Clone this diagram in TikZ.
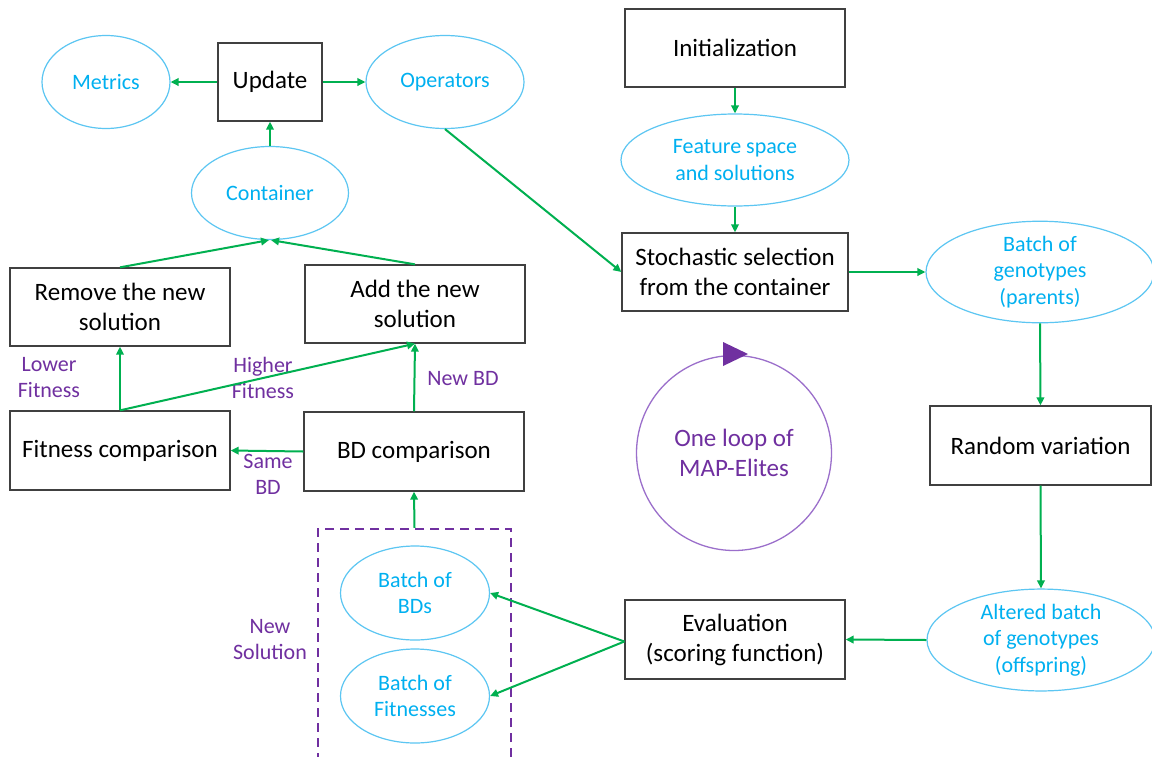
\documentclass[tikz,border=0pt]{standalone}
\usepackage{fontspec}
\setmainfont{Carlito}
\usetikzlibrary{arrows.meta,shapes.geometric}
\definecolor{cgreen}{HTML}{00B050}
\definecolor{cblue}{HTML}{00B0F0}
\definecolor{cblueline}{HTML}{5CC6F2}
\definecolor{cpurple}{HTML}{7030A0}
\definecolor{cpurpleline}{HTML}{9B6FCB}
\definecolor{cgray}{HTML}{404040}
\tikzset{
  box/.style={draw=cgray, line width=1.3pt, rectangle, inner sep=0pt, minimum width=220pt, minimum height=78pt, align=center, font=\fontsize{25}{30}\selectfont, text=black},
  oval/.style={draw=cblueline, line width=1.2pt, ellipse, inner sep=0pt, align=center, font=\fontsize{22}{26.5}\selectfont, text=cblue},
  lbl/.style={align=center, font=\fontsize{22}{26}\selectfont, text=cpurple, inner sep=0pt},
  conn/.style={draw=cgreen, line width=2pt, -{Triangle[length=8pt,width=7.5pt]}},
}
\begin{document}
\begin{tikzpicture}[x=1pt,y=-1pt]
\useasboundingbox (0,0) rectangle (1152,756);
\fill[white] (0,0) rectangle (1152,756);

% boxes
\node[box, minimum width=104pt] (upd) at (270,82) {Update};
\node[box] (init) at (735,48) {Initialization};
\node[box, minimum width=226pt] (stoch) at (735,272) {Stochastic selection\\from the container};
\node[box] (rem) at (120,307) {Remove the new\\solution};
\node[box] (add) at (415,304) {Add the new\\solution};
\node[box, minimum height=79pt] (fit) at (120,450.5) {Fitness comparison};
\node[box, minimum height=79pt] (bdc) at (414,451.5) {BD comparison};
\node[box, minimum width=221pt, minimum height=79pt] (rand) at (1040.5,445.5) {Random variation};
\node[box, minimum height=79pt] (eval) at (735,639.5) {Evaluation\\(scoring function)};

% ellipses
\node[oval, minimum width=128pt, minimum height=93pt] (met) at (106,82) {Metrics};
\node[oval, minimum width=158pt, minimum height=93pt] (ops) at (445,82) {Operators};
\node[oval, minimum width=157pt, minimum height=93pt] (cont) at (270,193) {Container};
\node[oval, minimum width=228pt, minimum height=92pt] (feat) at (735,160) {Feature space\\and solutions};
\node[oval, minimum width=228pt, minimum height=93pt] (par) at (1040,272) {Batch of\\genotypes\\(parents)};
\node[oval, minimum width=228pt, minimum height=93pt] (alt) at (1041,640) {Altered batch\\of genotypes\\(offspring)};
\node[oval, minimum width=149pt, minimum height=94pt] (bds) at (415,593) {Batch of\\BDs};
\node[oval, minimum width=149pt, minimum height=94pt] (fits) at (415,696) {Batch of\\Fitnesses};

% dashed group
\node[draw=cpurple, line width=2.2pt, dash pattern=on 9pt off 6pt, rectangle, inner sep=0pt, minimum width=193pt, minimum height=230pt] (grp) at (414.5,644) {};

% loop circle
\node[draw=cpurpleline, line width=1.3pt, circle, inner sep=0pt, minimum size=195pt, align=center, font=\fontsize{25}{30}\selectfont, text=cpurple] (loop) at (734,453) {One loop of\\MAP-Elites};
\fill[cpurple] (723,342) -- (748,354) -- (723,366) -- cycle;

% labels
\node[lbl] (lowlbl) at (49,378) {Lower\\Fitness};
\node[lbl] (higlbl) at (263,378) {Higher\\Fitness};
\node[lbl] (newbd) at (463,379) {New BD};
\node[lbl] (samebd) at (268,474) {Same\\BD};
\node[lbl] (newsol) at (270,640) {New\\Solution};

% connectors
\draw[conn] (upd.west) -- (met.east);
\draw[conn] (upd.east) -- (ops.west);
\draw[conn] (cont.north) -- (upd.south);
\draw[conn] (ops.south) -- (stoch.west);
\draw[conn] (init.south) -- (feat.north);
\draw[conn] (feat.south) -- (stoch.north);
\draw[conn] (stoch.east) -- (par.west);
\draw[conn] (par.south) -- (rand.north);
\draw[conn] (rand.south) -- (alt.north);
\draw[conn] (alt.west) -- (eval.west -| eval.east);
\draw[conn] ([yshift=-2pt]eval.west) -- (bds.east);
\draw[conn] ([yshift=-2pt]eval.west) -- (fits.east);
\draw[conn] (grp.north) -- (bdc.south);
\draw[conn] (bdc.west) -- (fit.east);
\draw[conn] (bdc.north) -- (add.south);
\draw[conn] (fit.north) -- (rem.south);
\draw[conn] (fit.north) -- (add.south);
\draw[conn] (rem.north) -- ([xshift=-1pt]cont.south);
\draw[conn] (add.north) -- ([xshift=1pt]cont.south);
\end{tikzpicture}
\end{document}
